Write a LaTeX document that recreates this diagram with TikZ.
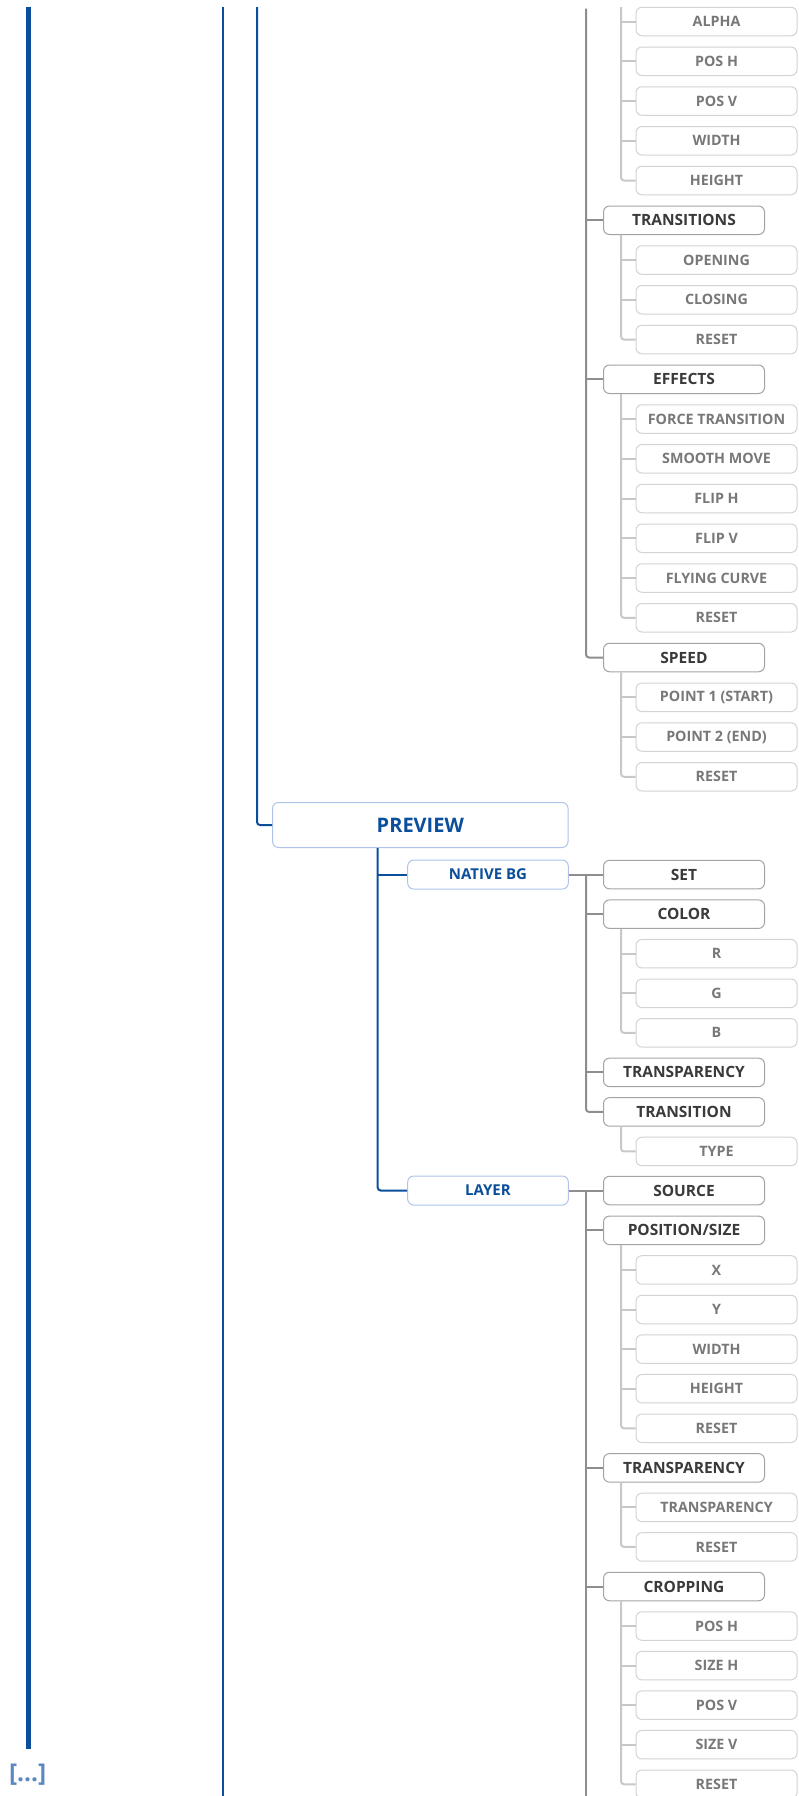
\documentclass[tikz,border=0pt]{standalone}
\usepackage{fontspec}
\setmainfont{Open Sans}
\definecolor{bluec}{HTML}{0B4F9C}
\definecolor{grayc}{HTML}{8E8E8E}
\definecolor{lightc}{HTML}{C8C8C8}
\definecolor{midborder}{HTML}{A3A3A3}
\definecolor{leafborder}{HTML}{D3D3D3}
\definecolor{blueborder}{HTML}{AFC3EA}
\definecolor{midtext}{HTML}{3A3A3A}
\definecolor{leaftext}{HTML}{787878}
\definecolor{dotsc}{HTML}{5B88C2}
\begin{document}
\begin{tikzpicture}[x=1pt,y=-1pt,
  base/.style={draw, fill=white, rounded corners=6pt, line width=1pt, minimum height=28.5pt, inner sep=0pt},
  midbox/.style={base, draw=midborder, text=midtext, minimum width=161pt, font=\fontsize{15.5}{16}\selectfont\bfseries},
  leafbox/.style={base, draw=leafborder, text=leaftext, minimum width=161pt, font=\fontsize{14.3}{15}\selectfont\bfseries},
  bluebox/.style={base, draw=blueborder, text=bluec, minimum width=160.6pt, minimum height=29pt, font=\fontsize{15}{16}\selectfont\bfseries},
  blueline/.style={draw=bluec, line width=2pt},
  thickblue/.style={draw=bluec, line width=4.7pt},
  grayline/.style={draw=grayc, line width=2pt},
  lightline/.style={draw=lightc, line width=2pt},
  rc/.style={rounded corners=3pt}
]
\useasboundingbox (0,0) rectangle (798,1796);

% ---------- upper part ----------
\node[leafbox] (alpha)   at (716.5,21.5)   {ALPHA};
\node[leafbox] (posh)    at (716.5,61.25)  {POS H};
\node[leafbox] (posv)    at (716.5,101)    {POS V};
\node[leafbox] (widthA)  at (716.5,140.75) {WIDTH};
\node[leafbox] (heightA) at (716.5,180.5)  {HEIGHT};
\node[midbox]  (trans)   at (684,220.25)   {TRANSITIONS};
\node[leafbox] (opening) at (716.5,260)    {OPENING};
\node[leafbox] (closing) at (716.5,299.75) {CLOSING};
\node[leafbox] (resetA)  at (716.5,339.5)  {RESET};
\node[midbox]  (effects) at (684,379.25)   {EFFECTS};
\node[leafbox] (force)   at (716.5,419)    {FORCE TRANSITION};
\node[leafbox] (smooth)  at (716.5,458.75) {SMOOTH MOVE};
\node[leafbox] (fliph)   at (716.5,498.5)  {FLIP H};
\node[leafbox] (flipv)   at (716.5,538.25) {FLIP V};
\node[leafbox] (flying)  at (716.5,578)    {FLYING CURVE};
\node[leafbox] (resetB)  at (716.5,617.75) {RESET};
\node[midbox]  (speed)   at (684,657.5)    {SPEED};
\node[leafbox] (pointA)  at (716.5,697.25) {POINT 1 (START)};
\node[leafbox] (pointB)  at (716.5,737)    {POINT 2 (END)};
\node[leafbox] (resetC)  at (716.5,776.75) {RESET};

% ---------- preview ----------
\node[bluebox, minimum width=295.5pt, minimum height=45pt, font=\fontsize{20}{22}\selectfont\bfseries] (preview) at (420.3,825) {PREVIEW};
\node[bluebox] (nativebg) at (488,874.6) {NATIVE BG};
\node[bluebox] (layer)    at (488,1190.5) {LAYER};

% ---------- lower part ----------
\node[midbox]  (set)        at (684,874.6)    {SET};
\node[midbox]  (color)      at (684,914.15)   {COLOR};
\node[leafbox] (cR)         at (716.5,953.7)  {R};
\node[leafbox] (cG)         at (716.5,993.25) {G};
\node[leafbox] (cB)         at (716.5,1032.8) {B};
\node[midbox]  (transpA)    at (684,1072.35)  {TRANSPARENCY};
\node[midbox]  (transition) at (684,1111.9)   {TRANSITION};
\node[leafbox] (type)       at (716.5,1151.45){TYPE};
\node[midbox]  (source)     at (684,1190.5)   {SOURCE};
\node[midbox]  (possize)    at (684,1230.3)   {POSITION/SIZE};
\node[leafbox] (pX)         at (716.5,1269.9) {X};
\node[leafbox] (pY)         at (716.5,1309.5) {Y};
\node[leafbox] (widthB)     at (716.5,1349.1) {WIDTH};
\node[leafbox] (heightB)    at (716.5,1388.7) {HEIGHT};
\node[leafbox] (resetD)     at (716.5,1428.3) {RESET};
\node[midbox]  (transpB)    at (684,1467.85)  {TRANSPARENCY};
\node[leafbox] (transpLeaf) at (716.5,1507.4) {TRANSPARENCY};
\node[leafbox] (resetE)     at (716.5,1546.95){RESET};
\node[midbox]  (cropping)   at (684,1586.5)   {CROPPING};
\node[leafbox] (cposh)      at (716.5,1626.05){POS H};
\node[leafbox] (csizeh)     at (716.5,1665.6) {SIZE H};
\node[leafbox] (cposv)      at (716.5,1705.15){POS V};
\node[leafbox] (csizev)     at (716.5,1744.7) {SIZE V};
\node[leafbox] (resetF)     at (716.5,1784.25){RESET};

\node[text=dotsc, inner sep=0pt, font=\fontsize{24.5}{26}\selectfont\bfseries] (dots) at (27.7,1775) {[...]};

% ---------- coordinates ----------
\coordinate (b1t) at (28.3,6.7);
\coordinate (b1b) at (28.3,1748.7);
\coordinate (b2t) at (223,7);
\coordinate (b2b) at (223,1800);
\coordinate (b3t) at (257,7);
\coordinate (bv)  at (377.7,0);
\coordinate (gt)  at (586,8.5);
\coordinate (lt)  at (621,7);
\coordinate (gx)  at (586,0);
\coordinate (lx)  at (621,0);
\coordinate (gb)  at (586,1800);

% ---------- blue lines ----------
\draw[thickblue] (b1t) -- (b1b);
\draw[blueline] (b2t) -- (b2b);
\draw[blueline, rc] (b3t) |- (preview.west);
\draw[blueline, rc] (bv |- preview.south) |- (layer.west);
\draw[blueline] (bv |- nativebg.west) -- (nativebg.west);

% ---------- upper connectors ----------
\draw[grayline, rc] (gt) |- (speed.west);
\foreach \n in {trans,effects} \draw[grayline] (gx |- \n.west) -- (\n.west);
\draw[lightline, rc] (lt) |- (heightA.west);
\foreach \n in {alpha,posh,posv,widthA} \draw[lightline] (lx |- \n.west) -- (\n.west);
\draw[lightline, rc] (lx |- trans.south) |- (resetA.west);
\foreach \n in {opening,closing} \draw[lightline] (lx |- \n.west) -- (\n.west);
\draw[lightline, rc] (lx |- effects.south) |- (resetB.west);
\foreach \n in {force,smooth,fliph,flipv,flying} \draw[lightline] (lx |- \n.west) -- (\n.west);
\draw[lightline, rc] (lx |- speed.south) |- (resetC.west);
\foreach \n in {pointA,pointB} \draw[lightline] (lx |- \n.west) -- (\n.west);

% ---------- lower connectors ----------
\draw[grayline] (nativebg.east) -- (set.west);
\draw[grayline, rc] (gx |- set.west) |- (transition.west);
\foreach \n in {color,transpA} \draw[grayline] (gx |- \n.west) -- (\n.west);
\draw[lightline, rc] (lx |- color.south) |- (cB.west);
\foreach \n in {cR,cG} \draw[lightline] (lx |- \n.west) -- (\n.west);
\draw[lightline, rc] (lx |- transition.south) |- (type.west);

\draw[grayline] (layer.east) -- (source.west);
\draw[grayline] (gx |- source.west) -- (gb);
\foreach \n in {possize,transpB,cropping} \draw[grayline] (gx |- \n.west) -- (\n.west);
\draw[lightline, rc] (lx |- possize.south) |- (resetD.west);
\foreach \n in {pX,pY,widthB,heightB} \draw[lightline] (lx |- \n.west) -- (\n.west);
\draw[lightline, rc] (lx |- transpB.south) |- (resetE.west);
\draw[lightline] (lx |- transpLeaf.west) -- (transpLeaf.west);
\draw[lightline, rc] (lx |- cropping.south) |- (resetF.west);
\foreach \n in {cposh,csizeh,cposv,csizev} \draw[lightline] (lx |- \n.west) -- (\n.west);
\end{tikzpicture}
\end{document}
